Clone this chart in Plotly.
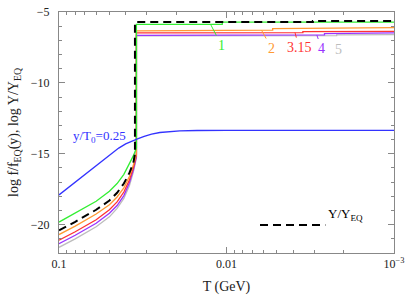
import math
import plotly.graph_objects as go

# ---- data ----
T_LOW = [0.1, 0.08, 0.06, 0.05, 0.045, 0.041, 0.038, 0.036]
TC_EQ = 0.0352   # Y/Y_EQ freeze-out temperature
TC_F = 0.0345    # f/f_EQ freeze-out temperature

green_low = [-19.82, -19.2, -18.35, -17.65, -17.1, -16.45, -15.75, -15.15, -14.6]
black_low = [-20.4, -19.8, -18.95, -18.3, -17.75, -17.1, -16.35, -15.65, -15.0]
orange_low = [-20.7, -20.1, -19.25, -18.6, -18.05, -17.4, -16.6, -15.8, -15.0]
red_low = [-21.1, -20.5, -19.65, -18.95, -18.4, -17.7, -16.85, -16.0, -15.1]
purple_low = [-21.35, -20.75, -19.9, -19.2, -18.65, -17.95, -17.05, -16.15, -15.2]
gray_low = [-21.6, -21.0, -20.15, -19.45, -18.85, -18.15, -17.25, -16.3, -15.3]

green_up_T = [TC_F, 0.0106, 0.0106, 0.001]
green_up = [-5.87, -5.87, -5.72, -5.71]
black_up_T = [TC_EQ, 0.00305, 0.00305, 0.001]
black_up = [-5.71, -5.71, -5.63, -5.63]
orange_up_T = [TC_F, 0.0053, 0.0053, 0.001]
orange_up = [-6.33, -6.28, -6.17, -6.1]
red_up_T = [TC_F, 0.0035, 0.0035, 0.001]
red_up = [-6.47, -6.45, -6.38, -6.36]
purple_up_T = [TC_F, 0.0026, 0.0026, 0.001]
purple_up = [-6.65, -6.62, -6.53, -6.47]
gray_up_T = [TC_F, 0.0022, 0.0022, 0.001]
gray_up = [-6.68, -6.66, -6.62, -6.6]

T_BLUE = [0.1, 0.08, 0.06, 0.05, 0.044, 0.04, 0.037, 0.034, 0.031, 0.028,
          0.025, 0.022, 0.019, 0.015, 0.01, 0.001]
blue = [-17.9, -17.0, -15.8, -15.05, -14.6, -14.3, -14.12, -13.95, -13.78, -13.62,
        -13.5, -13.43, -13.39, -13.36, -13.35, -13.35]

X_TICKS = [0.1, 0.01, 0.001]
X_TICKTEXT = ["0.1", "0.01", "10<sup>\u22123</sup>"]
Y_TICKS = [-5, -10, -15, -20]

FONT = "Liberation Serif, 'Times New Roman', 'DejaVu Serif', serif"

fig = go.Figure()


def add_curve(low, tc, up_T, up, color, dash=None, width=1.3):
    T = T_LOW + [tc] + up_T
    v = low + up
    fig.add_trace(go.Scatter(x=T, y=v, mode="lines",
                             line=dict(color=color, width=width, dash=dash),
                             showlegend=False, hoverinfo="skip"))


add_curve(gray_low, TC_F, gray_up_T, gray_up, "#bdbdbd")
add_curve(purple_low, TC_F, purple_up_T, purple_up, "#9933ff")
add_curve(red_low, TC_F, red_up_T, red_up, "#ff3333")
add_curve(orange_low, TC_F, orange_up_T, orange_up, "#ff9933")
add_curve(green_low, TC_F, green_up_T, green_up, "#33ee33")
fig.add_trace(go.Scatter(x=T_BLUE, y=blue, mode="lines",
                         line=dict(color="#3333ff", width=1.3),
                         showlegend=False, hoverinfo="skip"))
add_curve(black_low, TC_EQ, black_up_T, black_up, "black", dash="8px,5px", width=2)

# labels with leader lines
labels = [
    ("1", 0.01245, -5.87, 11, 21, "#33ee33"),
    ("2", 0.00617, -6.3, 10, 18, "#ff9933"),
    ("3.15", 0.0039, -6.45, 4, 15, "#ff3333"),
    ("4", 0.00289, -6.62, 5, 14, "#9933ff"),
    ("5", 0.00247, -6.66, 10, 14, "#bdbdbd"),
]
for txt, tx, ty, ax, ay, col in labels:
    fig.add_annotation(x=math.log10(tx), y=ty, text=txt, showarrow=True,
                       arrowhead=0, arrowwidth=1, arrowcolor=col,
                       ax=ax, ay=ay, font=dict(color=col, size=14, family=FONT),
                       standoff=0, startstandoff=1)

fig.add_annotation(x=math.log10(0.0388), y=-13.75, xanchor="right",
                   text="y/T<sub>0</sub>=0.25",
                   showarrow=False, font=dict(color="#3333ff", size=13, family=FONT))

# legend drawn manually
fig.add_shape(type="line", xref="paper", yref="paper", x0=0.60, x1=0.795,
              y0=0.1157, y1=0.1157, line=dict(color="black", width=2, dash="8px,5px"))
fig.add_annotation(xref="paper", yref="paper", x=0.798, y=0.1157, xanchor="left",
                   text="Y/Y<sub>EQ</sub>", showarrow=False,
                   font=dict(color="black", size=13, family=FONT))

minor_x = [m * d for d in (0.01, 0.001) for m in range(2, 10)]

fig.update_layout(
    width=409, height=296,
    margin=dict(l=59, r=15, t=5, b=43),
    paper_bgcolor="white", plot_bgcolor="white",
    font=dict(family=FONT, size=12, color="#222"),
    xaxis=dict(type="log", range=[-1, -3], tickvals=X_TICKS, ticktext=X_TICKTEXT,
               ticks="inside", ticklen=6, tickcolor="#888", showline=True,
               linecolor="#888", linewidth=1, mirror="ticks", showgrid=False,
               zeroline=False, ticklabeloverflow="allow",
               minor=dict(tickvals=minor_x, ticks="inside", ticklen=3,
                          tickcolor="#888", showgrid=False),
               title=dict(text="T (GeV)", standoff=10)),
    yaxis=dict(range=[-22, -5], tickvals=Y_TICKS,
               ticks="inside", ticklen=6, tickcolor="#888", showline=True,
               linecolor="#888", linewidth=1, mirror="ticks", showgrid=False,
               zeroline=False, ticklabelstandoff=6, ticklabeloverflow="allow",
               minor=dict(dtick=1, ticks="inside", ticklen=3, tickcolor="#888",
                          showgrid=False),
               title=dict(text="log f/f<sub>EQ</sub>(y), log Y/Y<sub>EQ</sub>",
                          standoff=8)),
)

fig.write_html("out.html", config={"displayModeBar": False},
               post_script="document.body.style.margin='0';document.body.style.overflow='hidden';")
